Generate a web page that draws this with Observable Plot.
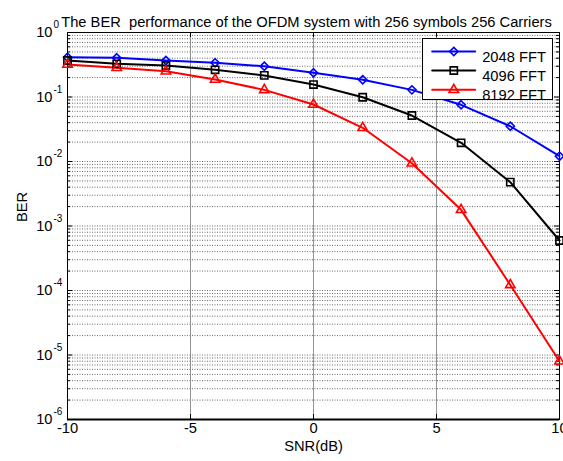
<!DOCTYPE html>
<html><head><meta charset="utf-8">
<script src="https://cdn.jsdelivr.net/npm/d3@7"></script>
<script src="https://cdn.jsdelivr.net/npm/@observablehq/plot@0.6"></script>
<style>body{margin:0;background:#fff}</style>
</head><body><div id="chart"></div>
<script>
const titleText = "The BER  performance of the OFDM system with 256 symbols 256 Carriers";
const xLabel = "SNR(dB)";
const yLabel = "BER";
const snr = [-10, -8, -6, -4, -2, 0, 2, 4, 6, 8, 10];
const ber2048 = [0.414, 0.405, 0.368, 0.339, 0.30, 0.237, 0.185, 0.129, 0.0757, 0.0352, 0.0121];
const ber4096 = [0.368, 0.327, 0.308, 0.264, 0.216, 0.156, 0.099, 0.0516, 0.0195, 0.00478, 0.000596];
const ber8192 = [0.319, 0.284, 0.251, 0.187, 0.129, 0.0765, 0.0333, 0.0094, 0.00178, 0.000122, 0.0000080];
const seriesNames = ["2048 FFT", "4096 FFT", "8192 FFT"];
const seriesColors = ["#0000ff", "#000000", "#ff0000"];
const seriesSymbols = ["diamond2", "square2", "triangle2"];
const seriesR = [3.7, 4.6, 4.5];
const xTicks = [-10, -5, 0, 5, 10];
const xGrid = [-5, 0, 5];
const yExponents = [0, -1, -2, -3, -4, -5, -6];

const berSeries = [ber2048, ber4096, ber8192];
const W = 563, H = 461, mL = 67, mR = 4, mT = 32, mB = 42;
const fw = W - mL - mR, fh = H - mT - mB;
const font = "Liberation Sans, Arial, Helvetica, sans-serif";
const fs = 14.7;

const rows = [];
seriesNames.forEach((name, i) => snr.forEach((x, j) => rows.push({series: name, snr: x, ber: berSeries[i][j]})));
const majorY = yExponents.map(e => Math.pow(10, e));
const minorY = [];
for (let e = -6; e <= -1; e++) for (let m = 2; m <= 9; m++) minorY.push(m * Math.pow(10, e));

const gridStyle = {stroke: "#444", strokeWidth: 0.8, strokeDasharray: "1,1.5"};
const lineShape = {draw(context, l) { context.moveTo(0, 0); context.lineTo(0, -l); }};
const legendRowDy = [19, 38, 57.3];

const marks = [
  Plot.ruleY(minorY, gridStyle),
  Plot.ruleY(majorY, gridStyle),
  Plot.ruleX(xGrid, {stroke: "#777", strokeWidth: 0.8}),
  Plot.tickY(majorY, {insetRight: fw - 5, stroke: "#000"}),
  Plot.tickY(majorY, {insetLeft: fw - 5, stroke: "#000"}),
  Plot.tickY(minorY, {insetRight: fw - 3, stroke: "#000"}),
  Plot.tickY(minorY, {insetLeft: fw - 3, stroke: "#000"}),
  Plot.tickX(xTicks, {insetTop: fh - 5, stroke: "#000"}),
  Plot.tickX(xTicks, {insetBottom: fh - 5, stroke: "#000"}),
  Plot.frame({stroke: "#000", strokeWidth: 1}),
  Plot.ruleY([Math.pow(10, -6)], {stroke: "#000", strokeWidth: 2}),
  Plot.line(rows, {x: "snr", y: "ber", z: "series", stroke: "series", strokeWidth: 2}),
  ...seriesNames.map((name, i) => Plot.dot(rows.filter(d => d.series === name), {
    x: "snr", y: "ber", stroke: "series", symbol: () => seriesSymbols[i], r: seriesR[i], fill: "none", strokeWidth: 1.6
  })),
  // y tick labels
  Plot.text(majorY, {y: d => d, text: () => "10", frameAnchor: "left", dx: -15, textAnchor: "end", fontSize: fs, fill: "#000"}),
  Plot.text(yExponents, {y: e => Math.pow(10, e), text: e => String(e), frameAnchor: "left", dx: -14, dy: -7.5, textAnchor: "start", fontSize: 10, fill: "#000"}),
  // x tick labels
  Plot.text(xTicks, {x: d => d, text: d => String(d), frameAnchor: "bottom", dy: 13, fontSize: fs, fill: "#000"}),
  Plot.text([xLabel], {frameAnchor: "bottom", dy: 31, fontSize: fs, fill: "#000"}),
  Plot.text([yLabel], {frameAnchor: "left", dx: -45, dy: -4, rotate: -90, fontSize: fs, fill: "#000"}),
  Plot.text([titleText], {frameAnchor: "top", dy: -16, dx: -7, fontSize: fs, fill: "#000"}),
  // legend
  Plot.frame({insetLeft: 355, insetRight: 7, insetTop: 6, insetBottom: 320, fill: "#fff", stroke: "#000", strokeWidth: 1}),
  ...seriesNames.flatMap((name, i) => [
    Plot.vector([name], {frameAnchor: "top-right", dx: -127.3, dy: legendRowDy[i], rotate: 90, length: 43, anchor: "start", shape: lineShape, stroke: seriesColors[i], strokeWidth: 2}),
    Plot.dot([name], {frameAnchor: "top-right", dx: -105.7, dy: legendRowDy[i], symbol: seriesSymbols[i], r: seriesR[i], fill: "none", stroke: seriesColors[i], strokeWidth: 1.6}),
    Plot.text([name], {frameAnchor: "top-right", dx: -77.3, dy: legendRowDy[i], textAnchor: "start", fontSize: fs, fill: "#000"})
  ])
];

const chart = Plot.plot({
  width: W, height: H,
  marginLeft: mL, marginRight: mR, marginTop: mT, marginBottom: mB,
  x: {domain: [-10, 10], axis: null},
  y: {type: "log", domain: [1e-6, 1], axis: null},
  color: {domain: seriesNames, range: seriesColors},
  style: {fontFamily: font, fontSize: fs + "px", background: "#fff", overflow: "visible"},
  marks
});
document.getElementById("chart").appendChild(chart);
</script>
</body></html>
